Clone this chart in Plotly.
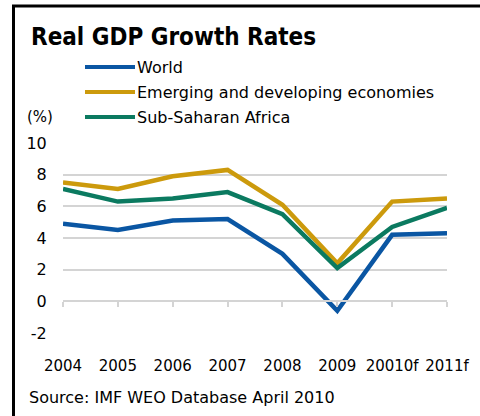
import plotly.graph_objects as go

# Real GDP growth, % per year (IMF WEO, April 2010)
years = ["2004", "2005", "2006", "2007", "2008", "2009", "20010f", "2011f"]
world = [4.9, 4.5, 5.1, 5.2, 3.0, -0.6, 4.2, 4.3]
emerging = [7.5, 7.1, 7.9, 8.3, 6.1, 2.4, 6.3, 6.5]
ssa = [7.1, 6.3, 6.5, 6.9, 5.5, 2.1, 4.7, 5.9]

y_ticks = [-2, 0, 2, 4, 6, 8, 10]
y_tick_text = ["-2", "0", "2", "4", "6", "8", "10"]

series_names = ["World", "Emerging and developing economies", "Sub-Saharan Africa"]
series_values = [world, emerging, ssa]
series_colors = ["#0a56a3", "#cc9a0c", "#0b7a60"]

FONT = "DejaVu Sans"
W, H = 480, 416
L, R, T, B = 63, 33, 143, 83
PW, PH = W - L - R, H - T - B

fig = go.Figure()
for name, vals, col in zip(series_names, series_values, series_colors):
    fig.add_trace(go.Scatter(x=years, y=vals, mode="lines", name=name,
                             line=dict(color=col, width=4.5),
                             hoverinfo="x+y+name"))

# invisible trace that carries the secondary x axis (tick marks on the zero line)
fig.add_trace(go.Scatter(x=years, y=world, xaxis="x2", mode="lines",
                         line=dict(width=0), opacity=0, showlegend=False,
                         hoverinfo="skip"))

grid = "#d4d4d4"
fig.update_layout(
    width=W, height=H,
    margin=dict(l=L, r=R, t=T, b=B),
    paper_bgcolor="white", plot_bgcolor="white",
    font=dict(family=FONT, size=16, color="black"),
    showlegend=False,
    xaxis=dict(type="category", categoryarray=years, range=[0, 7],
               showgrid=False, zeroline=False, showline=False,
               ticks="outside", ticklen=19, tickcolor="rgba(0,0,0,0)",
               tickfont=dict(size=15)),
    xaxis2=dict(type="category", categoryarray=years, range=[0, 7],
                overlaying="x", anchor="free", position=1 / 6,
                showgrid=False, zeroline=False, showline=True, linecolor=grid,
                linewidth=1.5, ticks="outside", ticklen=5, tickcolor=grid,
                tickwidth=1.5, showticklabels=False),
    yaxis=dict(range=[-2, 10], tickvals=y_ticks, ticktext=y_tick_text,
               showgrid=True, gridcolor=grid,
               gridwidth=1.5, zeroline=False, showline=False,
               ticks="outside", ticklen=12, tickcolor="rgba(0,0,0,0)",
               tickfont=dict(size=16)),
)


def px_x(x):
    return (x - L) / PW


def px_y(y):
    return (H - B - y) / PH


# frame along the top and left
fig.add_shape(type="line", xref="paper", yref="paper", x0=px_x(12), x1=px_x(W),
              y0=px_y(6), y1=px_y(6), line=dict(color="black", width=3))
fig.add_shape(type="line", xref="paper", yref="paper", x0=px_x(13.5), x1=px_x(13.5),
              y0=px_y(6), y1=px_y(H), line=dict(color="black", width=3))

# legend drawn as line swatches with labels
for i, (name, col) in enumerate(zip(series_names, series_colors)):
    yy = 67 + 25 * i
    fig.add_shape(type="line", xref="paper", yref="paper",
                  x0=px_x(85), x1=px_x(135), y0=px_y(yy), y1=px_y(yy),
                  line=dict(color=col, width=4))
    fig.add_annotation(xref="paper", yref="paper", x=px_x(135), y=px_y(yy),
                       text=name, showarrow=False, xanchor="left", yanchor="middle",
                       font=dict(size=16))

fig.add_annotation(xref="paper", yref="paper", x=px_x(25), y=px_y(117), text="(%)",
                   showarrow=False, xanchor="left", yanchor="middle", font=dict(size=15))
fig.add_annotation(xref="paper", yref="paper", x=px_x(29), y=px_y(37),
                   text="<b>Real GDP Growth Rates</b>", showarrow=False,
                   xanchor="left", yanchor="middle",
                   font=dict(size=24, family="DejaVu Sans Condensed"))
fig.add_annotation(xref="paper", yref="paper", x=px_x(27), y=px_y(397),
                   text="Source: IMF WEO Database April 2010", showarrow=False,
                   xanchor="left", yanchor="middle", font=dict(size=16))

fig.write_html("out.html")
